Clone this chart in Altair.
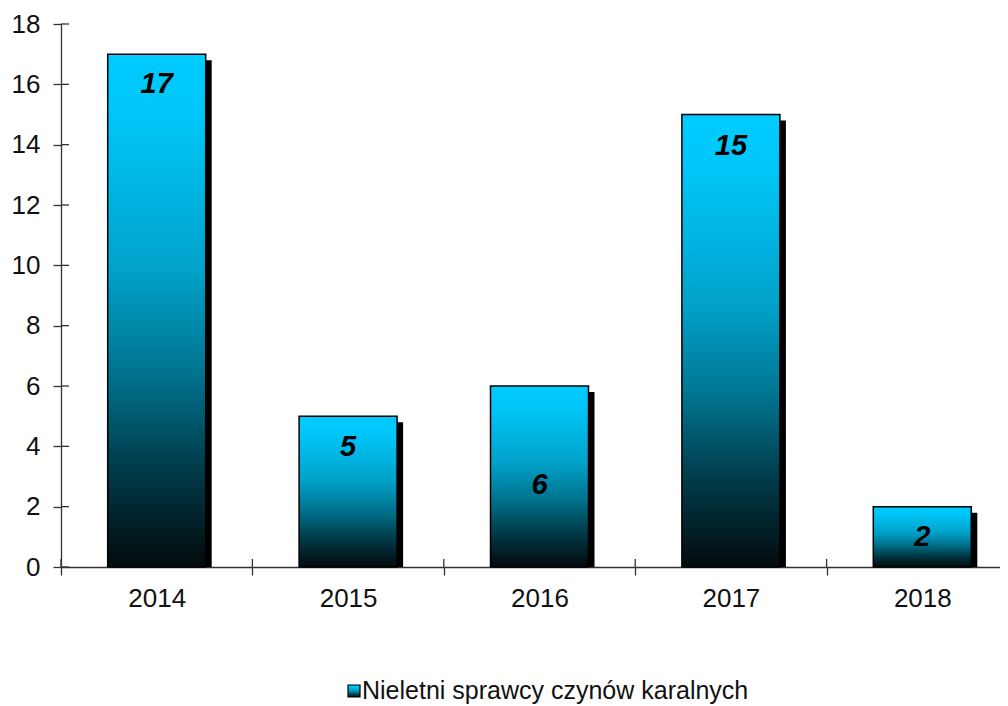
import altair as alt
import pandas as pd

years = ["2014", "2015", "2016", "2017", "2018"]
values = [17, 5, 6, 15, 2]
label_at = [16.0, 3.98, 2.72, 13.96, 0.98]
y_ticks = [0, 2, 4, 6, 8, 10, 12, 14, 16, 18]
series_name = "Nieletni sprawcy czynów karalnych"

df = pd.DataFrame({"year": years, "value": values, "label_at": label_at})
ticks_df = pd.DataFrame({"t": y_ticks})
legend_df = pd.DataFrame({"name": [series_name]})

W, H = 939, 543
AX = "#333333"
FONT = "Liberation Sans"

grad = alt.Gradient(
    gradient="linear", x1=0, x2=0, y1=0, y2=1,
    stops=[
        alt.GradientStop(color="#00CCFF", offset=0),
        alt.GradientStop(color="#00C6F8", offset=0.12),
        alt.GradientStop(color="#00A2CA", offset=0.42),
        alt.GradientStop(color="#007490", offset=0.62),
        alt.GradientStop(color="#003D4C", offset=0.8),
        alt.GradientStop(color="#030A0C", offset=1),
    ],
)

xscale = alt.Scale(range=[0, 957], paddingInner=0, paddingOuter=0)
yscale = alt.Scale(domain=[0, 18], nice=False)

x_enc = alt.X("year:N", scale=xscale, sort=years,
              axis=alt.Axis(title=None, labelAngle=0, tickBand="extent", tickSize=8,
                            labelFontSize=26, labelFont=FONT, labelColor="#111111",
                            labelPadding=10, domainColor=AX, tickColor=AX,
                            domainWidth=1.3, tickWidth=1.3))
y_enc = alt.Y("value:Q", scale=yscale,
              axis=alt.Axis(title=None, values=y_ticks, grid=False, tickSize=8,
                            labelFontSize=26, labelFont=FONT, labelColor="#111111",
                            labelPadding=13, domainColor=AX, tickColor=AX,
                            domainWidth=1.3, tickWidth=1.3))

shadow = alt.Chart(df).mark_bar(color="black", width=98, xOffset=6, yOffset=6,
                                clip=True).encode(x=x_enc, y=y_enc)

bars = alt.Chart(df).mark_bar(fill=grad, stroke="black", strokeWidth=1.5, width=98).encode(
    x=alt.X("year:N", scale=xscale, sort=years),
    y=alt.Y("value:Q", scale=yscale))

labels = alt.Chart(df).mark_text(fontSize=29, fontWeight="bold", fontStyle="italic",
                                 font=FONT, color="black", baseline="middle").encode(
    x=alt.X("year:N", scale=xscale, sort=years),
    y=alt.Y("label_at:Q", scale=yscale),
    text="value:Q")

ytick_in = alt.Chart(ticks_df).mark_rule(color=AX, strokeWidth=1.3).encode(
    y=alt.Y("t:Q", scale=yscale), x=alt.value(0), x2=alt.value(8))

xtick_in = alt.Chart(df).mark_rule(color=AX, strokeWidth=1.3).encode(
    x=alt.X("year:N", scale=xscale, sort=years, bandPosition=0),
    y=alt.value(H - 8), y2=alt.value(H))

leg_box = alt.Chart(legend_df).mark_rect(fill=grad, stroke="black", strokeWidth=1.2).encode(
    x=alt.value(287), x2=alt.value(299), y=alt.value(661), y2=alt.value(673))

leg_text = alt.Chart(legend_df).mark_text(align="left", baseline="middle", fontSize=25,
                                          font=FONT, color="#111111").encode(
    x=alt.value(301), y=alt.value(667), text="name:N")

chart = alt.layer(shadow, bars, labels, ytick_in, xtick_in, leg_box, leg_text).properties(
    width=W, height=H,
    autosize=alt.AutoSizeParams(type="none"),
    padding={"left": 53, "top": 16, "right": 0, "bottom": 138},
).configure_view(stroke=None)

chart.save("out.html", embed_options={"renderer": "svg", "actions": False})
